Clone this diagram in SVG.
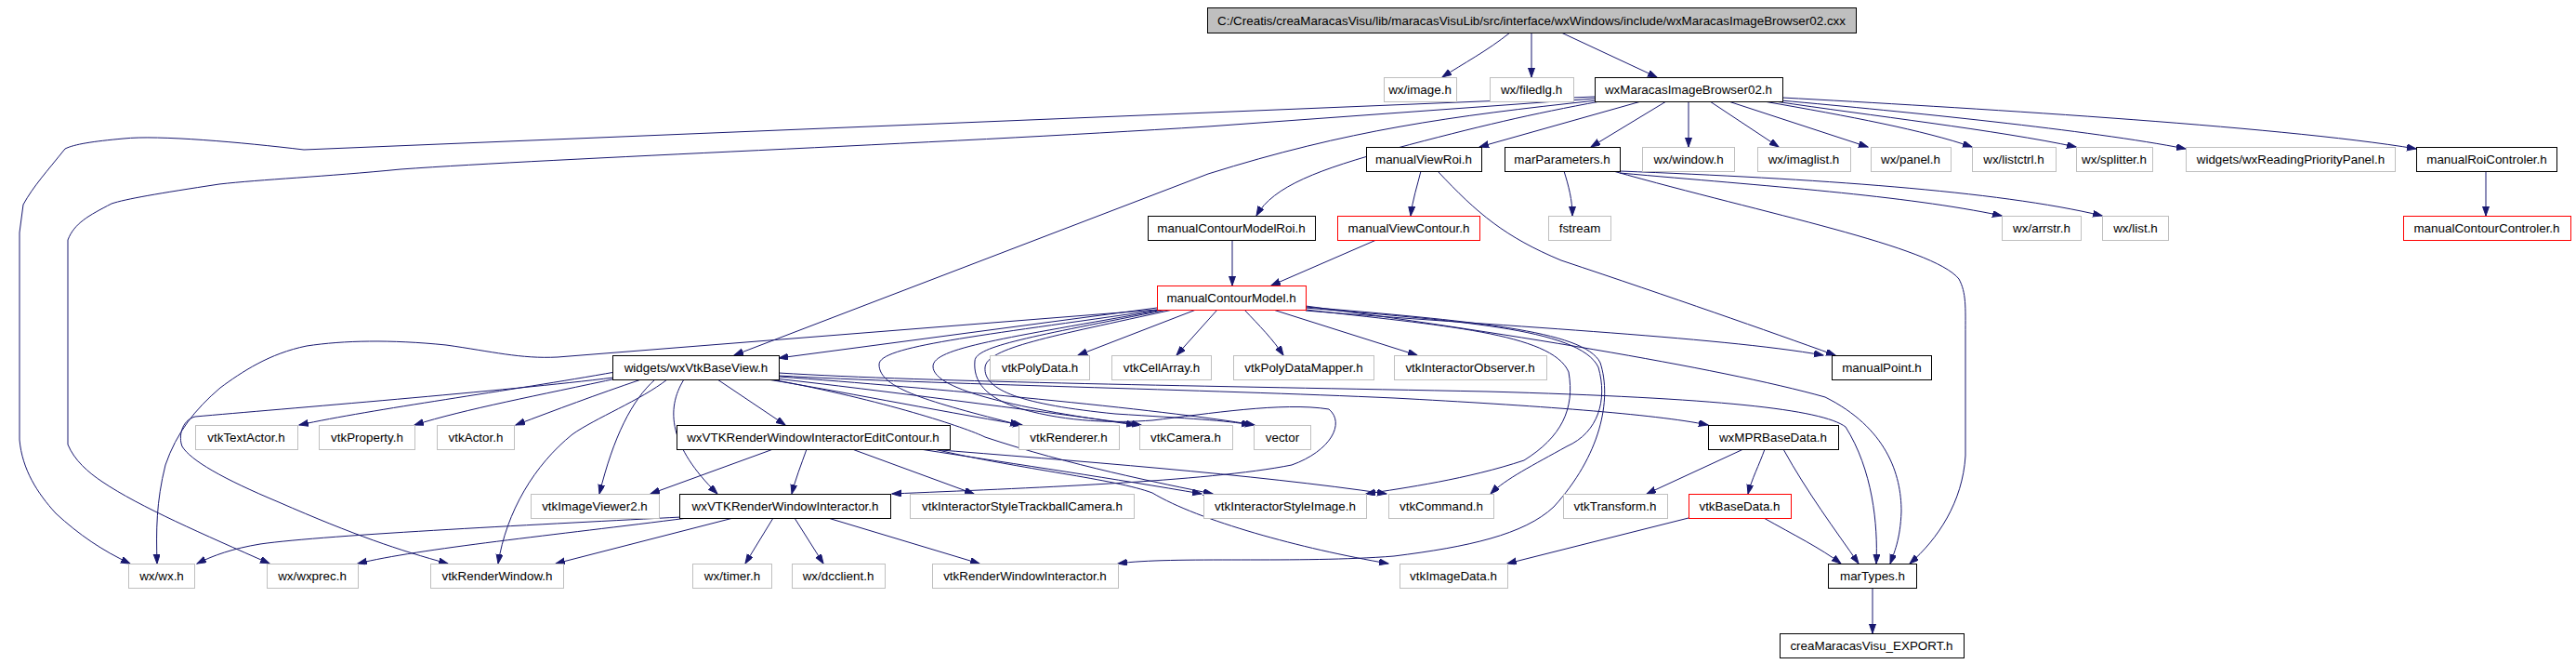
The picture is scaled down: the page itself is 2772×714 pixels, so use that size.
<svg xmlns="http://www.w3.org/2000/svg" width="2772" height="714" viewBox="0 0 2772 714">
<style>
rect{fill:#fff;stroke-width:1}
.b{stroke:#000}
.g{stroke:#bfbfbf}
.r{stroke:#ff0000}
.t{fill:#bfbfbf;stroke:#000}
text{font-family:"Liberation Sans",Arial,sans-serif;font-size:13.4px;fill:#000;text-anchor:middle}
#edges path{fill:none;stroke:#191970;stroke-width:1;marker-end:url(#ah)}
</style>
<defs>
<marker id="ah" markerUnits="userSpaceOnUse" markerWidth="11" markerHeight="8" refX="10" refY="3.5" orient="auto">
<path d="M0,0 L10,3.5 L0,7 z" fill="#191970" stroke="#191970"/>
</marker>
</defs>
<rect x="0" y="0" width="2772" height="714" style="fill:#fff;stroke:none"/>
<g id="edges">
<path d="M1625,35 C1600,55 1575,68 1552,83"/>
<path d="M1648,35 L1648,83"/>
<path d="M1680,35 L1783,83"/>
<path d="M1716,104 L327,161 C260,153 170,145 133,149 C100,152 80,155 70,160 C50,185 36,200 25,220 L21,250 L21,473 C24,505 40,530 60,552 C85,575 110,592 140,606"/>
<path d="M1716,106 L1300,136 C1000,155 600,170 431,182 C350,190 280,193 236,198 C170,208 135,214 120,219 C95,232 80,240 73,258 L73,478 C80,495 95,508 110,518 C150,545 220,575 290,606"/>
<path d="M1718,108 C1560,125 1450,140 1300,187 L790,382"/>
<path d="M1722,109 C1650,122 1590,136 1500,160 C1420,182 1370,200 1352,232"/>
<path d="M1766,109 L1592,158"/>
<path d="M1793,109 L1712,158"/>
<path d="M1817,109 L1817,158"/>
<path d="M1840,109 L1914,158"/>
<path d="M1860,109 L2010,158"/>
<path d="M1898,109 C1990,125 2070,140 2122,158"/>
<path d="M1910,109 C2010,124 2150,140 2234,158"/>
<path d="M1916,108 C2050,120 2250,140 2352,160"/>
<path d="M1918,105 C2100,115 2450,135 2600,160"/>
<path d="M1529,184 C1525,200 1520,215 1518,232"/>
<path d="M1547,184 C1590,230 1620,255 1680,280 C1800,320 1900,355 1975,382"/>
<path d="M1683,184 C1688,200 1692,215 1692,232"/>
<path d="M1743,186 C1900,200 2050,210 2154,232"/>
<path d="M1743,184 C1950,192 2150,205 2262,232"/>
<path d="M1736,184 C1900,230 2080,265 2108,300 C2116,315 2115,330 2115,360 L2115,490 C2112,540 2085,580 2055,606"/>
<path d="M2675,184 L2675,232"/>
<path d="M1326,258 L1326,307"/>
<path d="M1481,258 L1368,307"/>
<path d="M1287,333 L1160,382"/>
<path d="M1310,333 L1266,382"/>
<path d="M1339,333 C1355,350 1370,365 1381,382"/>
<path d="M1370,333 L1525,382"/>
<path d="M1405,334 C1600,350 1850,362 1962,382"/>
<path d="M1245,331 L838,385"/>
<path d="M1245,333 L600,384 C560,386 530,378 480,371 C420,365 370,366 330,372 C290,380 260,400 237,417 C210,440 190,465 178,500 C168,540 168,570 169,606"/>
<path d="M1248,333 C1050,362 946,372 946,392 C946,418 1000,432 1097,457"/>
<path d="M1252,333 C1080,364 1004,374 1004,394 C1004,420 1100,440 1222,457"/>
<path d="M1256,333 C1110,362 1050,372 1049,388 C1047,410 1060,428 1100,440 C1150,454 1200,455 1240,452 C1300,445 1380,432 1430,440 C1448,455 1432,485 1390,500 C1300,518 1100,525 960,531"/>
<path d="M1262,333 C1130,362 1062,374 1060,395 C1058,420 1100,435 1200,445 C1280,450 1320,452 1346,457"/>
<path d="M1405,333 C1550,350 1670,358 1688,400 C1695,440 1680,470 1640,495 C1580,515 1510,525 1470,531"/>
<path d="M1405,331 C1560,345 1700,352 1720,395 C1730,430 1720,465 1686,480 C1650,500 1620,515 1604,531"/>
<path d="M1405,330 C1580,345 1705,355 1722,390 C1735,430 1722,490 1672,545 C1640,575 1580,588 1500,598 C1400,606 1260,598 1203,606"/>
<path d="M1405,329 C1600,355 1850,395 1964,427 C2030,460 2046,510 2046,550 C2045,580 2038,595 2034,606"/>
<path d="M662,400 C550,420 400,440 322,457"/>
<path d="M668,406 C580,425 500,440 446,457"/>
<path d="M690,408 C640,425 600,440 555,457"/>
<path d="M705,408 C680,430 660,470 645,531"/>
<path d="M718,408 C690,430 640,450 616,467 C575,500 545,550 536,606"/>
<path d="M736,408 C716,440 720,480 772,531"/>
<path d="M772,408 L845,457"/>
<path d="M826,408 C900,420 1000,440 1100,457"/>
<path d="M834,407 C950,420 1100,440 1228,457"/>
<path d="M838,405 C1000,417 1250,440 1350,457"/>
<path d="M838,404 C1000,413 1300,419 1500,428 C1650,436 1780,445 1838,457"/>
<path d="M838,401 C1000,411 1300,415 1600,421 C1850,428 1960,440 1986,459 C2015,505 2021,564 2019,606"/>
<path d="M830,408 C950,430 1040,460 1060,470 C1150,500 1250,520 1305,531"/>
<path d="M660,406 C550,420 300,440 210,448 C195,452 192,470 196,480 C205,495 240,515 300,540 C380,575 430,592 482,606"/>
<path d="M832,483 L700,531"/>
<path d="M868,483 C862,500 856,515 852,531"/>
<path d="M917,483 L1048,531"/>
<path d="M990,483 C1100,500 1200,515 1293,531"/>
<path d="M1000,483 C1150,495 1350,510 1492,531"/>
<path d="M1005,483 C1100,505 1200,515 1240,530 C1290,560 1400,590 1494,606"/>
<path d="M733,556 C600,563 350,575 280,585 C250,590 230,597 212,606"/>
<path d="M740,557 C600,575 450,590 385,606"/>
<path d="M789,557 L598,606"/>
<path d="M832,557 L802,606"/>
<path d="M855,557 L886,606"/>
<path d="M891,557 L1054,606"/>
<path d="M1876,483 L1772,531"/>
<path d="M1899,483 C1893,500 1885,515 1881,531"/>
<path d="M1919,483 C1945,530 1975,570 2000,606"/>
<path d="M1817,557 L1622,606"/>
<path d="M1898,557 C1930,575 1960,590 1981,606"/>
<path d="M2015,632 L2015,681"/>
</g>
<g id="n_title"><rect class="t" x="1299.5" y="8.5" width="698" height="27"/><text x="1648" y="26.5">C:/Creatis/creaMaracasVisu/lib/maracasVisuLib/src/interface/wxWindows/include/wxMaracasImageBrowser02.cxx</text></g>
<g id="n_wximage"><rect class="g" x="1489.5" y="83.5" width="78" height="26"/><text x="1528" y="101">wx/image.h</text></g>
<g id="n_wxfiledlg"><rect class="g" x="1603.5" y="83.5" width="90" height="26"/><text x="1648" y="101">wx/filedlg.h</text></g>
<g id="n_b02"><rect class="b" x="1716.5" y="83.5" width="202" height="26"/><text x="1817" y="101">wxMaracasImageBrowser02.h</text></g>
<g id="n_manualViewRoi"><rect class="b" x="1470.5" y="158.5" width="124" height="26"/><text x="1532" y="176">manualViewRoi.h</text></g>
<g id="n_marParameters"><rect class="b" x="1619.5" y="158.5" width="124" height="26"/><text x="1681" y="176">marParameters.h</text></g>
<g id="n_wxwindow"><rect class="g" x="1767.5" y="158.5" width="99" height="26"/><text x="1817" y="176">wx/window.h</text></g>
<g id="n_wximaglist"><rect class="g" x="1891.5" y="158.5" width="100" height="26"/><text x="1941" y="176">wx/imaglist.h</text></g>
<g id="n_wxpanel"><rect class="g" x="2013.5" y="158.5" width="86" height="26"/><text x="2056" y="176">wx/panel.h</text></g>
<g id="n_wxlistctrl"><rect class="g" x="2122.5" y="158.5" width="90" height="26"/><text x="2167" y="176">wx/listctrl.h</text></g>
<g id="n_wxsplitter"><rect class="g" x="2234.5" y="158.5" width="82" height="26"/><text x="2275" y="176">wx/splitter.h</text></g>
<g id="n_wxReading"><rect class="g" x="2352.5" y="158.5" width="225" height="26"/><text x="2465" y="176">widgets/wxReadingPriorityPanel.h</text></g>
<g id="n_manualRoiControler"><rect class="b" x="2600.5" y="158.5" width="151" height="26"/><text x="2676" y="176">manualRoiControler.h</text></g>
<g id="n_manualContourModelRoi"><rect class="b" x="1235.5" y="232.5" width="180" height="26"/><text x="1325" y="250">manualContourModelRoi.h</text></g>
<g id="n_manualViewContour"><rect class="r" x="1439.5" y="232.5" width="153" height="26"/><text x="1516" y="250">manualViewContour.h</text></g>
<g id="n_fstream"><rect class="g" x="1666.5" y="232.5" width="67" height="26"/><text x="1700" y="250">fstream</text></g>
<g id="n_wxarrstr"><rect class="g" x="2154.5" y="232.5" width="85" height="26"/><text x="2197" y="250">wx/arrstr.h</text></g>
<g id="n_wxlist"><rect class="g" x="2262.5" y="232.5" width="71" height="26"/><text x="2298" y="250">wx/list.h</text></g>
<g id="n_manualContourControler"><rect class="r" x="2586.5" y="232.5" width="180" height="26"/><text x="2676" y="250">manualContourControler.h</text></g>
<g id="n_manualContourModel"><rect class="r" x="1245.5" y="307.5" width="160" height="26"/><text x="1325" y="325">manualContourModel.h</text></g>
<g id="n_wxVtkBaseView"><rect class="b" x="659.5" y="382.5" width="179" height="26"/><text x="749" y="400">widgets/wxVtkBaseView.h</text></g>
<g id="n_vtkPolyData"><rect class="g" x="1065.5" y="382.5" width="107" height="26"/><text x="1119" y="400">vtkPolyData.h</text></g>
<g id="n_vtkCellArray"><rect class="g" x="1196.5" y="382.5" width="107" height="26"/><text x="1250" y="400">vtkCellArray.h</text></g>
<g id="n_vtkPolyDataMapper"><rect class="g" x="1327.5" y="382.5" width="151" height="26"/><text x="1403" y="400">vtkPolyDataMapper.h</text></g>
<g id="n_vtkInteractorObserver"><rect class="g" x="1500.5" y="382.5" width="164" height="26"/><text x="1582" y="400">vtkInteractorObserver.h</text></g>
<g id="n_manualPoint"><rect class="b" x="1971.5" y="382.5" width="107" height="26"/><text x="2025" y="400">manualPoint.h</text></g>
<g id="n_vtkTextActor"><rect class="g" x="210.5" y="457.5" width="110" height="26"/><text x="265" y="475">vtkTextActor.h</text></g>
<g id="n_vtkProperty"><rect class="g" x="343.5" y="457.5" width="103" height="26"/><text x="395" y="475">vtkProperty.h</text></g>
<g id="n_vtkActor"><rect class="g" x="470.5" y="457.5" width="83" height="26"/><text x="512" y="475">vtkActor.h</text></g>
<g id="n_editContour"><rect class="b" x="728.5" y="457.5" width="294" height="26"/><text x="875" y="475">wxVTKRenderWindowInteractorEditContour.h</text></g>
<g id="n_vtkRenderer"><rect class="g" x="1096.5" y="457.5" width="108" height="26"/><text x="1150" y="475">vtkRenderer.h</text></g>
<g id="n_vtkCamera"><rect class="g" x="1226.5" y="457.5" width="100" height="26"/><text x="1276" y="475">vtkCamera.h</text></g>
<g id="n_vector"><rect class="g" x="1349.5" y="457.5" width="61" height="26"/><text x="1380" y="475">vector</text></g>
<g id="n_wxMPRBaseData"><rect class="b" x="1838.5" y="457.5" width="140" height="26"/><text x="1908" y="475">wxMPRBaseData.h</text></g>
<g id="n_vtkImageViewer2"><rect class="g" x="571.5" y="531.5" width="138" height="26"/><text x="640" y="549">vtkImageViewer2.h</text></g>
<g id="n_wxVTKRWI"><rect class="b" x="731.5" y="531.5" width="227" height="26"/><text x="845" y="549">wxVTKRenderWindowInteractor.h</text></g>
<g id="n_trackball"><rect class="g" x="979.5" y="531.5" width="241" height="26"/><text x="1100" y="549">vtkInteractorStyleTrackballCamera.h</text></g>
<g id="n_styleImage"><rect class="g" x="1295.5" y="531.5" width="175" height="26"/><text x="1383" y="549">vtkInteractorStyleImage.h</text></g>
<g id="n_vtkCommand"><rect class="g" x="1494.5" y="531.5" width="113" height="26"/><text x="1551" y="549">vtkCommand.h</text></g>
<g id="n_vtkTransform"><rect class="g" x="1682.5" y="531.5" width="112" height="26"/><text x="1738" y="549">vtkTransform.h</text></g>
<g id="n_vtkBaseData"><rect class="r" x="1817.5" y="531.5" width="110" height="26"/><text x="1872" y="549">vtkBaseData.h</text></g>
<g id="n_wxwx"><rect class="g" x="138.5" y="606.5" width="71" height="26"/><text x="174" y="624">wx/wx.h</text></g>
<g id="n_wxwxprec"><rect class="g" x="287.5" y="606.5" width="98" height="26"/><text x="336" y="624">wx/wxprec.h</text></g>
<g id="n_vtkRenderWindow"><rect class="g" x="463.5" y="606.5" width="143" height="26"/><text x="535" y="624">vtkRenderWindow.h</text></g>
<g id="n_wxtimer"><rect class="g" x="745.5" y="606.5" width="85" height="26"/><text x="788" y="624">wx/timer.h</text></g>
<g id="n_wxdcclient"><rect class="g" x="852.5" y="606.5" width="100" height="26"/><text x="902" y="624">wx/dcclient.h</text></g>
<g id="n_vtkRWI"><rect class="g" x="1003.5" y="606.5" width="200" height="26"/><text x="1103" y="624">vtkRenderWindowInteractor.h</text></g>
<g id="n_vtkImageData"><rect class="g" x="1506.5" y="606.5" width="116" height="26"/><text x="1564" y="624">vtkImageData.h</text></g>
<g id="n_marTypes"><rect class="b" x="1967.5" y="606.5" width="95" height="26"/><text x="2015" y="624">marTypes.h</text></g>
<g id="n_export"><rect class="b" x="1915.5" y="681.5" width="198" height="26"/><text x="2014" y="699">creaMaracasVisu_EXPORT.h</text></g>
</svg>
